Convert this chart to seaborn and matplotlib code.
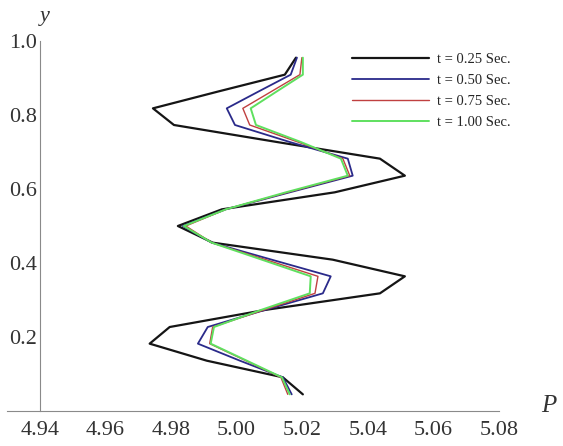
import numpy as np
import pandas as pd
import matplotlib
matplotlib.use("Agg")
import matplotlib.pyplot as plt
import seaborn as sns
from matplotlib.ticker import MultipleLocator

# y positions of the profile points (bottom to top)
y_pts = [0.045, 0.091, 0.136, 0.182, 0.227, 0.273, 0.318, 0.364, 0.409, 0.455, 0.500,
         0.545, 0.591, 0.636, 0.682, 0.727, 0.773, 0.818, 0.864, 0.909, 0.955]

# pressure P at each point, one list per time
p_025 = [5.0202, 5.0141, 4.9909, 4.9735, 4.9796, 5.0086, 5.0437, 5.0513, 5.0293, 4.9927, 4.9821,
         4.9955, 5.0299, 5.0513, 5.0437, 5.0123, 4.9809, 4.9745, 4.9946, 5.0147, 5.0181]
p_050 = [5.0168, 5.0141, 5.0010, 4.9882, 4.9912, 5.0086, 5.0263, 5.0287, 5.0107, 4.9924, 4.9836,
         4.9967, 5.0162, 5.0354, 5.0339, 5.0162, 4.9995, 4.9970, 5.0068, 5.0165, 5.0184]
p_075 = [5.0156, 5.0135, 5.0028, 4.9918, 4.9927, 5.0083, 5.0239, 5.0248, 5.0089, 4.9924, 4.9845,
         4.9967, 5.0156, 5.0345, 5.0324, 5.0187, 5.0040, 5.0019, 5.0107, 5.0193, 5.0199]
p_100 = [5.0162, 5.0138, 5.0031, 4.9921, 4.9931, 5.0074, 5.0223, 5.0226, 5.0077, 4.9924, 4.9839,
         4.9967, 5.0150, 5.0339, 5.0318, 5.0196, 5.0059, 5.0043, 5.0123, 5.0202, 5.0202]

labels = ["t = 0.25 Sec.", "t = 0.50 Sec.", "t = 0.75 Sec.", "t = 1.00 Sec."]
colors = ["#151515", "#2a2a8a", "#c04040", "#5fe05f"]
widths = [1.6, 1.3, 1.0, 1.4]

x_ticks = [4.94, 4.96, 4.98, 5.00, 5.02, 5.04, 5.06, 5.08]
y_ticks = [0.2, 0.4, 0.6, 0.8, 1.0]

sns.set_style("white")
plt.rcParams["font.family"] = ["Liberation Serif", "DejaVu Serif"]

fig = plt.figure(figsize=(5.63, 4.46), dpi=100)
ax = fig.add_axes([7 / 563, 1 - 411 / 446, (499 - 7) / 563, (411 - 41) / 446])

# draw in point order (profile along y), no aggregation
for vals, lab, c, w in zip([p_025, p_050, p_075, p_100], labels, colors, widths):
    sns.lineplot(x=vals, y=y_pts, sort=False, estimator=None, errorbar=None,
                 color=c, linewidth=w, label=lab, ax=ax)

ax.set_xlim(4.93, 5.08)
ax.set_ylim(0, 1.0)

for s in ["top", "right"]:
    ax.spines[s].set_visible(False)
ax.spines["left"].set_position(("data", 4.94))
ax.spines["bottom"].set_position(("data", 0))
for s in ["left", "bottom"]:
    ax.spines[s].set_color("#8a8a8a")
    ax.spines[s].set_linewidth(0.8)

ax.set_xticks(x_ticks)
ax.set_xticklabels([f"{v:.2f}" for v in x_ticks])
ax.set_yticks(y_ticks)
ax.set_yticklabels([f"{v:.1f}" for v in y_ticks])
ax.xaxis.set_minor_locator(MultipleLocator(0.005))
ax.yaxis.set_minor_locator(MultipleLocator(0.05))
ax.tick_params(which="both", direction="in", color="#8a8a8a", width=0.7)
ax.tick_params(which="major", length=5, labelsize=16, labelcolor="#333333")
ax.tick_params(which="minor", length=3)
ax.tick_params(axis="x", pad=7)
ax.tick_params(axis="y", pad=2)
ax.set_xlabel("")
ax.set_ylabel("")

fig.text(45 / 563, 1 - 16 / 446, "y", fontsize=16, style="italic", ha="center", va="center", color="#333333")
fig.text(549 / 563, 1 - 406 / 446, "P", fontsize=18, style="italic", ha="center", va="center", color="#333333")

ax.legend(loc="upper left", bbox_to_anchor=(0.701, 0.967), frameon=False,
          borderpad=0, borderaxespad=0,
          fontsize=10.5, handlelength=5.3, labelspacing=0.52, handletextpad=0.55)

fig.savefig("out.png", dpi=100)
